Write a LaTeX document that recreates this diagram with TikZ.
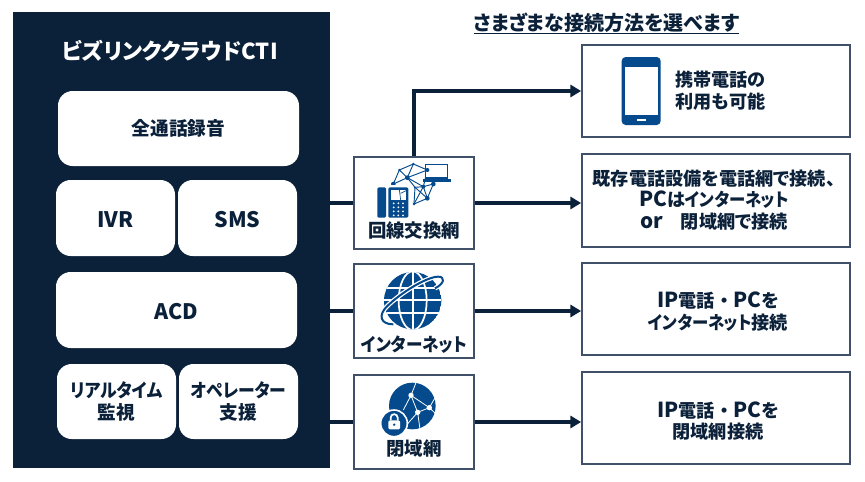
\documentclass[tikz,border=0pt]{standalone}
\usepackage{fontspec}
\usepackage{graphicx}
\setmainfont{Noto Sans CJK JP}[RawFeature=+palt]
\usetikzlibrary{arrows.meta}
\definecolor{navy}{HTML}{0B2039}
\definecolor{iconblue}{HTML}{044A8C}
\definecolor{edgegrey}{HTML}{3F5068}
\tikzset{
  card/.style={fill=white,rounded corners=11pt,text=navy,font=\bfseries\fontsize{14}{16.2}\selectfont,align=center},
  plainbox/.style={draw=edgegrey,line width=1.3pt,fill=white},
  boxtext/.style={text=navy,font=\bfseries\fontsize{13.6}{16.4}\selectfont,align=center},
  iconlabel/.style={text=navy,font=\bfseries\fontsize{13.8}{15}\selectfont},
  link/.style={navy,line width=2.4pt},
  linkto/.style={link,-{Triangle[length=8pt,width=9pt]}}
}
\newcommand\kana[1]{\scalebox{0.9}[1]{#1}} % narrower katakana
\newcommand\lat[1]{{\fontsize{15.5}{16}\selectfont #1}}
\newcommand\cardlat[1]{\raisebox{-7.3pt}[0pt][0pt]{\fontsize{16}{16}\selectfont #1}}
\newcommand\pxbox[7]{% name, style, left, top, right, bottom, text
  \pgfmathsetmacro\boxw{(#5-#3)*0.75}
  \pgfmathsetmacro\boxh{(#6-#4)*0.75}
  \node[#2,inner sep=0pt,minimum width=\boxw pt,minimum height=\boxh pt] (#1) at ({(#3+#5)/2},{(#4+#6)/2}) {#7};
}
\begin{document}
\begin{tikzpicture}[x=0.75pt,y=-0.75pt]
  \useasboundingbox (0,0) rectangle (865,482);
  % left panel
  \pxbox{panel}{fill=navy}{13}{12}{330}{468}{}
  \node[text=white,font=\bfseries\fontsize{16.5}{18}\selectfont] (brand) at (170,51) {ビズリンククラウドCTI};
  \pxbox{rec}{card}{58}{91}{299}{166}{全通話録音}
  \pxbox{ivr}{card}{56}{180}{175}{256}{\cardlat{IVR}}
  \pxbox{sms}{card}{178}{180}{297}{256}{\cardlat{SMS}}
  \pxbox{acd}{card}{56}{272}{297}{348}{\cardlat{ACD}}
  \pxbox{mon}{card}{57}{364}{176}{439}{\kana{リアルタイム}\\監視}
  \pxbox{opr}{card}{179}{364}{298}{439}{\kana{オペレーター}\\支援}
  % heading
  \node[text=navy,font=\bfseries\fontsize{15}{16}\selectfont] (heading) at (606.5,23) {さまざまな接続方法を選べます};
  \coordinate (ulleft) at (474,33.5);
  \coordinate (ulright) at (739,33.5);
  \draw[navy,line width=1pt] (ulleft) -- (ulright);
  % middle column
  \pxbox{pstn}{plainbox}{354}{157}{474}{249}{}
  \pxbox{inet}{plainbox}{354}{264}{474}{358}{}
  \pxbox{closed}{plainbox}{354}{375}{474}{469}{}
  \node[iconlabel] (pstnlabel) at (414,231) {回線交換網};
  \node[iconlabel] (inetlabel) at (414,345) {\kana{インターネット}};
  \node[iconlabel] (closedlabel) at (414,449) {閉域網};
  % right column
  \pxbox{mobile}{plainbox}{582}{45}{850}{137}{}
  \pxbox{legacy}{plainbox}{582}{154}{850}{247}{}
  \pxbox{ippc}{plainbox}{582}{263}{850}{355}{}
  \pxbox{ipvpn}{plainbox}{582}{372}{850}{464}{}
  \node[boxtext] (mobiletext) at (720.5,91) {携帯電話の\\利用も可能};
  \node[boxtext] (legacytext) at (714,200) {既存電話設備を電話網で接続、\\\lat{PC}は\kana{インターネット}\\\lat{or}\hspace{1em}閉域網で接続};
  \node[boxtext] (ippctext) at (718,312) {\lat{IP}電話\hspace{.25em}・\hspace{.25em}\lat{PC}を\\\kana{インターネット}接続};
  \node[boxtext] (ipvpntext) at (718,421) {\lat{IP}電話\hspace{.25em}・\hspace{.25em}\lat{PC}を\\閉域網接続};
  % connectors
  \draw[link] (panel.east |- pstn.west) -- (pstn.west);
  \draw[link] (panel.east |- inet.west) -- (inet.west);
  \draw[link] (panel.east |- closed.west) -- (closed.west);
  \draw[linkto] (pstn.north) |- (mobile.west);
  \draw[linkto] (pstn.east) -- (legacy.west |- pstn.east);
  \draw[linkto] (inet.east) -- (ippc.west |- inet.east);
  \draw[linkto] (closed.east) -- (ipvpn.west |- closed.east);
  % smartphone icon
  \begin{scope}[shift={(570,30)},x=0.25pt,y=-0.25pt]
    \fill[iconblue,rounded corners=3pt] (155,81) rectangle (272,285);
    \fill[white] (165,112) rectangle (263,254);
    \fill[white] (200,266) rectangle (228,273);
  \end{scope}
  % exchange network icon
  \begin{scope}[shift={(340,0)},x=0.25pt,y=-0.25pt]
    \coordinate (m1) at (220,492); \coordinate (m2) at (178,510); \coordinate (m3) at (262,510);
    \coordinate (m4) at (202,533); \coordinate (m5) at (160,552); \coordinate (m6) at (280,552);
    \coordinate (m7) at (250,560); \coordinate (m8) at (262,595); \coordinate (m9) at (222,612);
    \coordinate (m10) at (225,562);
    \foreach \pa/\pb in {1/2,1/3,1/4,2/4,3/4,2/5,4/5,4/10,4/7,3/6,3/7,6/7,7/8,6/8,10/7,10/8,8/9,10/9,7/9}{
      \draw[iconblue,line width=0.7pt] (m\pa) -- (m\pb);
    }
    \foreach \pt/\rad in {1/4,2/4,3/6,4/7,5/7,6/7,7/6,8/7,9/4,10/3}{
      \fill[iconblue] (m\pt) circle (\rad);
    }
    % laptop
    \fill[white] (255,492) rectangle (325,535);
    \draw[iconblue,line width=1pt] (257,494) rectangle (323,534);
    \fill[iconblue] (248,538) rectangle (332,545);
    \fill[iconblue] (262,510) circle (6);
    % desk phone
    \fill[white] (106,556) rectangle (210,656);
    \fill[iconblue,rounded corners=1pt] (112,562) rectangle (138,653);
    \fill[iconblue,rounded corners=1pt] (145,562) rectangle (205,653);
    \fill[white] (152,569) rectangle (198,600);
    \draw[iconblue,line width=0.5pt] (178,569) -- (182,600) (182,580) -- (198,572);
    \foreach \kx in {161,175,189}{
      \foreach \ky in {610,622,634,646}{
        \fill[white] (\kx,\ky) circle (3);
      }
    }
  \end{scope}
  % globe icon
  \begin{scope}[shift={(340,250)},x=0.25pt,y=-0.25pt]
    \begin{scope}
      \clip (218,152) circle (86);
      \fill[iconblue] (218,152) circle (86);
      \draw[white,line width=1.3pt] (132,113) -- (304,113) (132,150) -- (304,150) (132,190) -- (304,190);
      \draw[white,line width=1.3pt] (218,60) -- (218,240);
      \draw[white,line width=1.3pt] (218,152) ellipse (42 and 88);
    \end{scope}
  \end{scope}
  % ring round the globe
  \begin{scope}[shift={(370,265)},x=0.25pt,y=-0.25pt]
    \draw[white,line width=3.4pt] (70,178) .. controls (30,178) and (25,150) .. (50,125) .. controls (90,85) and (170,35) .. (205,35) .. controls (225,35) and (225,55) .. (195,70);
    \draw[iconblue,line width=1.5pt] (70,178) .. controls (30,178) and (25,150) .. (50,125) .. controls (90,85) and (170,35) .. (205,35) .. controls (225,35) and (225,55) .. (195,70);
  \end{scope}
  % closed network icon
  \begin{scope}[shift={(340,250)},x=0.25pt,y=-0.25pt]
    \fill[iconblue] (217,468) circle (70);
    \draw[white,line width=0.6pt] (213,436) -- (268,473) -- (233,487) -- (213,436) (213,436) -- (190,480) (233,487) -- (240,538) (268,473) -- (284,445) (268,473) -- (286,490) (213,436) -- (228,398) (233,487) -- (195,530);
    \foreach \dx/\dy/\rad in {213/436/8,268/473/8,233/487/8}{
      \fill[white] (\dx,\dy) circle (\rad);
    }
    \fill[iconblue,draw=white,line width=1.2pt] (162,520) circle (40);
    \fill[white,rounded corners=1pt] (145,511) rectangle (180,538);
    \draw[white,line width=1.3pt] (152,511) -- (152,503) arc[start angle=180,end angle=360,radius=10.5] -- (173,511);
    \fill[iconblue] (162.5,524) circle (4);
  \end{scope}
\end{tikzpicture}
\end{document}
